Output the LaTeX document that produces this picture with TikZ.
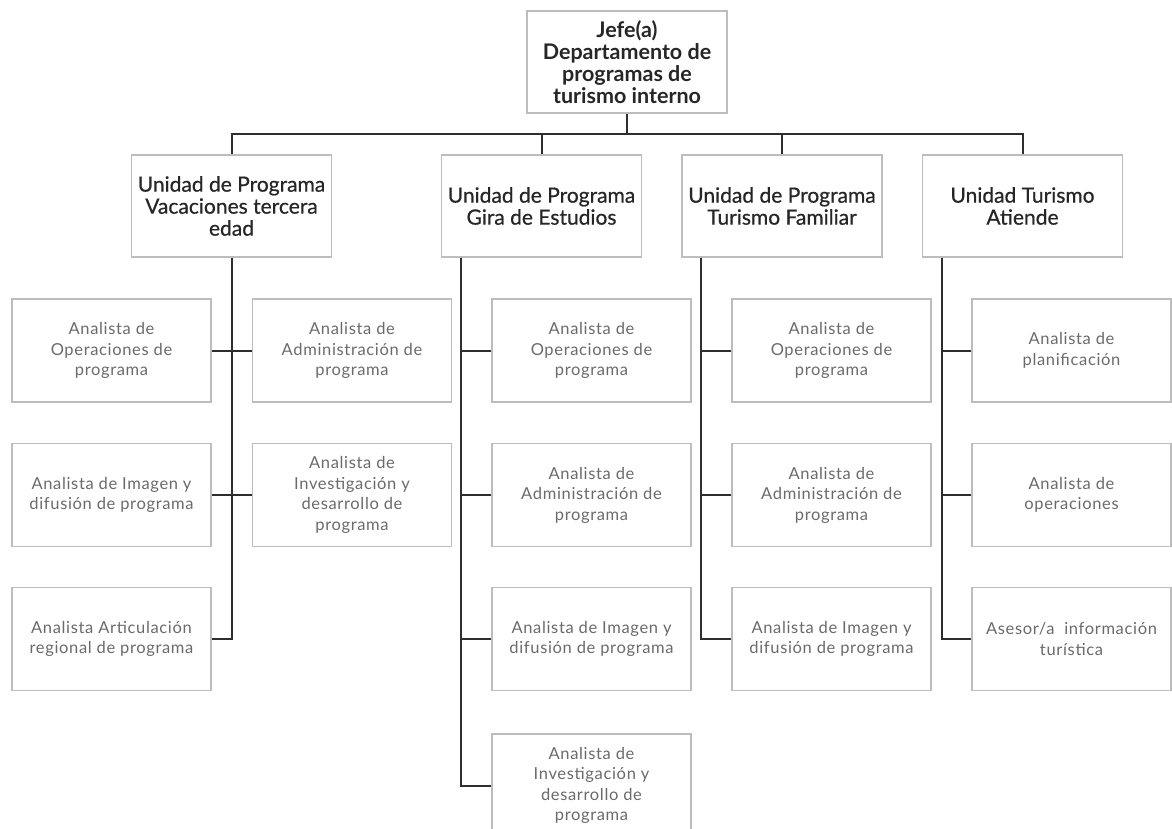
\documentclass[tikz,border=0pt]{standalone}
\usepackage{fontspec}
\setmainfont{Lato}
\newfontfamily\rolefont{Lato}[LetterSpace=4]
\newfontfamily\unitfont{Lato}[FakeBold=0.6]
\definecolor{linkgray}{HTML}{2E2E2E}
\definecolor{boxgray}{HTML}{BDBDBD}
\definecolor{rolegray}{HTML}{6A6A6A}
\begin{document}
\begin{tikzpicture}[x=1pt,y=-1pt]
  \tikzset{
    boss/.style={
      draw=boxgray,
      line width=1.2pt,
      minimum width=200pt,
      minimum height=102pt,
      inner sep=2pt,
      align=center,
      text=black!85,
      font=\bfseries\fontsize{21.5}{22}\selectfont
    },
    unit/.style={
      boss,
      font=\unitfont\fontsize{21}{22}\selectfont
    },
    role/.style={
      boss,
      minimum width=199pt,
      minimum height=103pt,
      text=rolegray,
      font=\rolefont\fontsize{16.5}{20.5}\selectfont
    },
    link/.style={draw=linkgray, line width=2pt}
  }
  \useasboundingbox (0,0) rectangle (1172,829);

  \node[boss] (jefe) at (627,62) {Jefe(a)\\Departamento de\\programas de\\turismo interno};

  \node[unit] (vac) at (231.5,206) {Unidad de Programa\\Vacaciones tercera\\edad};
  \node[unit] (gira) at (541.5,206) {Unidad de Programa\\Gira de Estudios};
  \node[unit] (fam) at (782,206) {Unidad de Programa\\Turismo Familiar};
  \node[unit] (ate) at (1022.5,206) {Unidad Turismo\\Atiende};

  % vacaciones tercera edad
  \node[role] (vacOp) at (111.5,350.5) {Analista de\\Operaciones de\\programa};
  \node[role] (vacAdm) at (352,350.5) {Analista de\\Administración de\\programa};
  \node[role] (vacImg) at (111.5,495) {Analista de Imagen y\\difusión de programa};
  \node[role] (vacInv) at (352,495) {Analista de\\Investigación y\\desarrollo de\\programa};
  \node[role] (vacArt) at (111.5,639) {Analista Articulación\\regional de programa};

  % gira de estudios
  \node[role] (giraOp) at (591.5,350.5) {Analista de\\Operaciones de\\programa};
  \node[role] (giraAdm) at (591.5,495) {Analista de\\Administración de\\programa};
  \node[role] (giraImg) at (591.5,639) {Analista de Imagen y\\difusión de programa};
  \node[role] (giraInv) at (591.5,785.5) {Analista de\\Investigación y\\desarrollo de\\programa};

  % turismo familiar
  \node[role] (famOp) at (831.5,350.5) {Analista de\\Operaciones de\\programa};
  \node[role] (famAdm) at (831.5,495) {Analista de\\Administración de\\programa};
  \node[role] (famImg) at (831.5,639) {Analista de Imagen y\\difusión de programa};

  % turismo atiende
  \node[role] (atePlan) at (1071.5,350.5) {Analista de\\planificación};
  \node[role] (ateOp) at (1071.5,495) {Analista de\\operaciones};
  \node[role] (ateInf) at (1071.5,639) {Asesor/a\ \ información\\turística};

  \coordinate (bus) at (627,134);
  \draw[link] (jefe.south) -- (bus);
  \foreach \u in {vac,gira,fam,ate}
    \draw[link] (bus) -| (\u.north);

  \draw[link] (vac.south) |- (vacArt.east);
  \draw[link] (vacOp.east) -- (vacAdm.west);
  \draw[link] (vacImg.east) -- (vacInv.west);
  \foreach \r in {giraOp,giraAdm,giraImg,giraInv}
    \draw[link] ([xshift=20pt]gira.south west) |- (\r.west);
  \foreach \r in {famOp,famAdm,famImg}
    \draw[link] ([xshift=20pt]fam.south west) |- (\r.west);
  \foreach \r in {atePlan,ateOp,ateInf}
    \draw[link] ([xshift=20pt]ate.south west) |- (\r.west);
\end{tikzpicture}
\end{document}
